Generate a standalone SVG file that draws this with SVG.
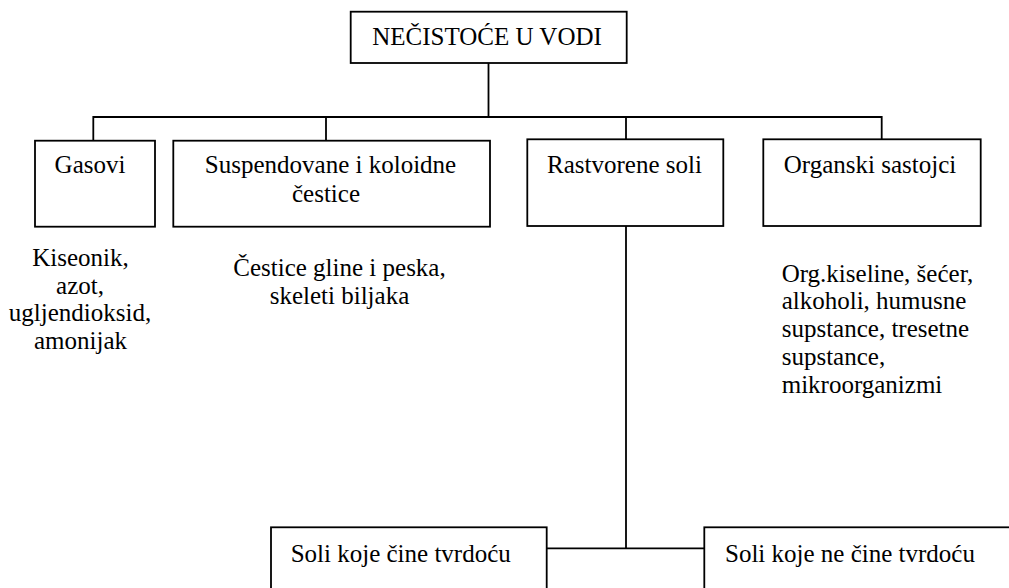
<svg xmlns="http://www.w3.org/2000/svg" width="1009" height="588" viewBox="0 0 1009 588" font-family="Liberation Serif, Times New Roman, Times, serif" font-size="25">
<style>
.box{fill:#fff;stroke:#000;stroke-width:1.8}
.ln{fill:none;stroke:#000;stroke-width:1.8}
.t{font-family:'Liberation Serif','Times New Roman',Times,serif;font-size:25px;fill:#000}
.c{text-anchor:middle}
</style>
<rect width="1009" height="588" fill="#fff"/>
<g id="connectors">
<path class="ln" d="M488.5 63 V117 M93.3 140.7 V117 H881.7 V139.3 M326 117 V140.7 M626 117 V139.3 M626 226 V548.3 M546.7 548.3 H704.3"/>
</g>
<g id="root">
<rect class="box" x="350.7" y="11.7" width="276" height="51.3"/>
<text class="t c" x="487" y="45">NEČISTOĆE U VODI</text>
</g>
<g id="gasovi">
<rect class="box" x="35" y="140.7" width="120" height="86"/>
<text class="t c" x="90" y="173.3">Gasovi</text>
</g>
<g id="suspendovane">
<rect class="box" x="173.3" y="140.7" width="316.7" height="86"/>
<text class="t c" x="330.5" y="173.3">Suspendovane i koloidne</text>
<text class="t c" x="326" y="201.7">čestice</text>
</g>
<g id="rastvorene">
<rect class="box" x="527.3" y="139.3" width="196" height="86.7"/>
<text class="t c" x="624.5" y="173.3">Rastvorene soli</text>
</g>
<g id="organski">
<rect class="box" x="763.3" y="139.3" width="217.4" height="86.7"/>
<text class="t c" x="870" y="172.7">Organski sastojci</text>
</g>
<g id="gasovi-list">
<text class="t c" x="80.5" y="265.7">Kiseonik,</text>
<text class="t c" x="80" y="293.5">azot,</text>
<text class="t c" x="80" y="321.3">ugljendioksid,</text>
<text class="t c" x="80.5" y="349">amonijak</text>
</g>
<g id="suspendovane-list">
<text class="t c" x="339.5" y="276">Čestice gline i peska,</text>
<text class="t c" x="339.5" y="304.3">skeleti biljaka</text>
</g>
<g id="organski-list">
<text class="t" x="781.7" y="281.5">Org.kiseline, šećer,</text>
<text class="t" x="781.7" y="309.3">alkoholi, humusne</text>
<text class="t" x="781.7" y="337.2">supstance, tresetne</text>
<text class="t" x="781.7" y="365">supstance,</text>
<text class="t" x="781.7" y="392.7">mikroorganizmi</text>
</g>
<g id="soli-tvrdoca">
<rect class="box" x="271" y="527.3" width="275.7" height="70"/>
<text class="t" x="290.7" y="561.7">Soli koje čine tvrdoću</text>
</g>
<g id="soli-ne-tvrdoca">
<rect class="box" x="704.3" y="527.3" width="320" height="70"/>
<text class="t" x="725" y="561.7">Soli koje ne čine tvrdoću</text>
</g>
</svg>
